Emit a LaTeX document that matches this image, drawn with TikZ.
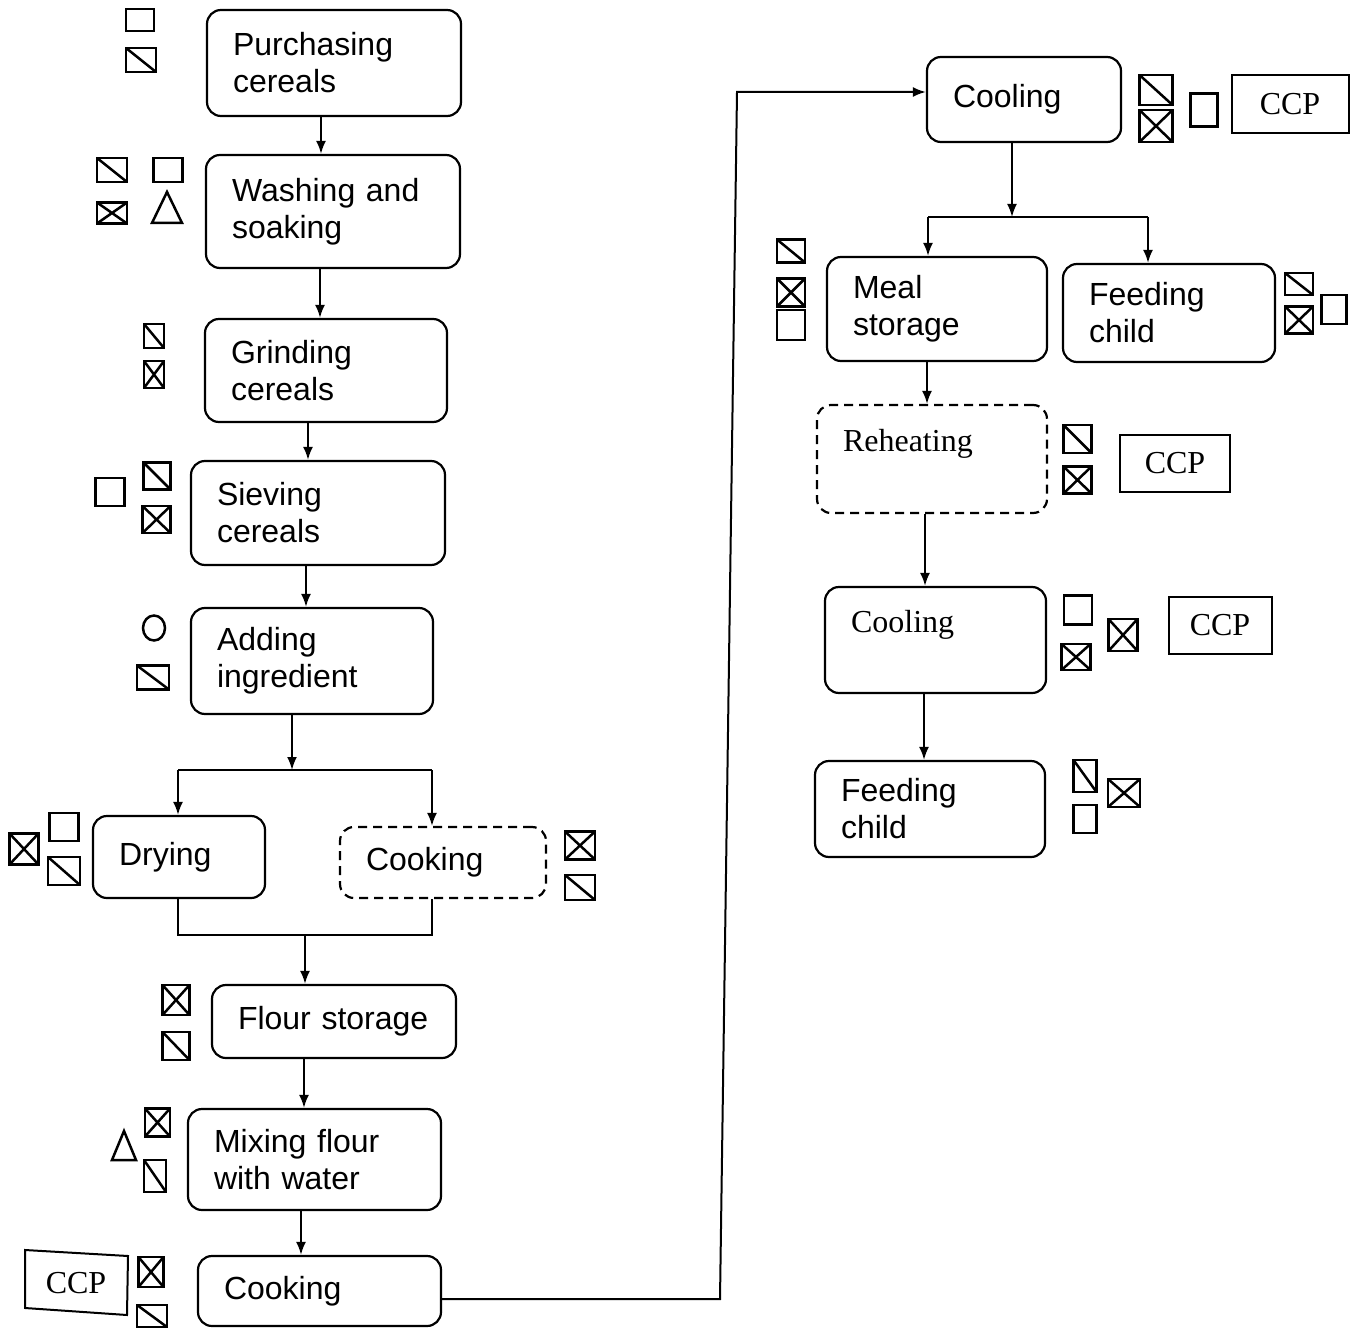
\documentclass[tikz,border=0pt]{standalone}
\usepackage{fontspec}
\setmainfont{Liberation Sans}
\newfontfamily\serifface{Liberation Serif}
\usetikzlibrary{arrows.meta,shapes.geometric}
\begin{document}
\begin{tikzpicture}[x=1pt,y=-1pt,
  box/.style={draw, line width=2.2pt, rounded corners=14pt, align=left, inner xsep=26pt, inner ysep=0pt, font=\fontsize{32}{37}\selectfont},
  dbox/.style={box, dash pattern=on 9pt off 6pt},
  serifbox/.style={font=\serifface\fontsize{32}{37}\selectfont},
  ccp/.style={draw, line width=2pt, inner sep=0pt, font=\serifface\fontsize{32}{37}\selectfont},
  symline/.style={line width=2.5pt},
  symE/.style={draw, symline, inner sep=0pt, rectangle},
  symD/.style={symE, path picture={\draw[symline] (path picture bounding box.north west) -- (path picture bounding box.south east);}},
  symX/.style={symE, path picture={\draw[symline] (path picture bounding box.north west) -- (path picture bounding box.south east) (path picture bounding box.south west) -- (path picture bounding box.north east);}},
  symO/.style={draw, symline, inner sep=0pt, ellipse},
  wh/.style 2 args={minimum width=#1pt, minimum height=#2pt},
  arr/.style={line width=2pt, -{Latex[length=13pt,width=10pt]}},
  ln/.style={line width=2pt},
]
\useasboundingbox (0,0) rectangle (1359,1329);

% ---------- left column boxes ----------
\node[box, text width=202pt, minimum height=106pt] (p1) at (334,63) {Purchasing\\cereals};
\node[box, text width=202pt, minimum height=113pt] (p2) at (333,211.5) {Washing and\\soaking};
\node[box, text width=190pt, minimum height=103pt] (p3) at (326,370.5) {Grinding\\cereals};
\node[box, text width=202pt, minimum height=104pt] (p4) at (318,513) {Sieving\\cereals};
\node[box, text width=190pt, minimum height=106pt] (p5) at (312,661) {Adding\\ingredient};
\node[box, text width=120pt, minimum height=82pt] (p6) at (179,857) {Drying};
\node[dbox, text width=154pt, minimum height=71pt] (p7) at (443,862.5) {Cooking};
\node[box, text width=192pt, minimum height=73pt] (p8) at (334,1021.5) {Flour storage};
\node[box, text width=201pt, minimum height=101pt] (p9) at (314.5,1159.5) {Mixing flour\\with water};
\node[box, text width=191pt, minimum height=70pt] (p10) at (319.5,1291) {Cooking};

% ---------- right column boxes ----------
\node[box, text width=142pt, minimum height=85pt] (q1) at (1024,99.5) {Cooling};
\node[box, text width=168pt, minimum height=104pt] (q2) at (937,309) {Meal\\storage};
\node[box, text width=160pt, minimum height=98pt] (q3) at (1169,313) {Feeding\\child};
\node[dbox, serifbox, text width=178pt, minimum height=108pt] (q4) at (932,459) {Reheating\\\mbox{}};
\node[box, serifbox, text width=169pt, minimum height=106pt] (q5) at (935.5,640) {Cooling\\\mbox{}};
\node[box, text width=178pt, minimum height=96pt] (q6) at (930,809) {Feeding\\child};

% ---------- CCP boxes ----------
\node[ccp, wh={117}{58}] (c1) at (1290,104) {CCP};
\node[ccp, wh={110}{57}] (c2) at (1175,463) {CCP};
\node[ccp, wh={103}{57}] (c3) at (1220,625) {CCP};
\draw[line width=2pt] (25,1250) -- (128,1256) -- (127,1315) -- (25,1308) -- cycle;
\node[inner sep=0pt, font=\serifface\fontsize{32}{37}\selectfont] (c4) at (76,1283) {CCP};

% ---------- symbols ----------
\node[symE, wh={28}{22}] (s1) at (140,20) {};
\node[symD, wh={30}{24}] (s2) at (141,60) {};
\node[symD, wh={30}{24}] (s3) at (112,170) {};
\node[symE, wh={29}{24}] (s4) at (168,170) {};
\node[symX, wh={30}{21}] (s5) at (112,213) {};
\draw[symline] (167,192) -- (182,223) -- (152,223) -- cycle;
\node[symD, wh={20}{24}] (s6) at (154,336) {};
\node[symX, wh={20}{27}] (s7) at (154,374.5) {};
\node[symE, wh={29}{28}] (s8) at (110,492) {};
\node[symD, wh={27}{27}] (s9) at (157,476) {};
\node[symX, wh={28}{27}] (s10) at (156.5,519.5) {};
\node[symO, wh={22}{25}] (s11) at (154,628) {};
\node[symD, wh={32}{24}] (s12) at (153,677.5) {};
\node[symX, wh={29}{31}] (s13) at (24,849) {};
\node[symE, wh={29}{28}] (s14) at (64,827) {};
\node[symD, wh={32}{28}] (s15) at (64,871) {};
\node[symX, wh={30}{28}] (s16) at (580,845.5) {};
\node[symD, wh={30}{25}] (s17) at (580,887.5) {};
\node[symX, wh={27}{30}] (s18) at (176,1000) {};
\node[symD, wh={27}{28}] (s19) at (176,1046) {};
\node[symX, wh={25}{28}] (s20) at (157.5,1122.5) {};
\draw[symline] (124,1131) -- (136,1160) -- (112,1160) -- cycle;
\node[symD, wh={22}{32}] (s21) at (155,1176) {};
\node[symX, wh={25}{30}] (s22) at (151,1272) {};
\node[symD, wh={30}{22}] (s23) at (152,1316) {};
\node[symD, wh={33}{30}] (s24) at (1156,90) {};
\node[symX, wh={33}{32}] (s25) at (1156,126) {};
\node[symE, wh={27}{33}] (s26) at (1204,110) {};
\node[symD, wh={28}{23}] (s27) at (791,251) {};
\node[symX, wh={28}{28}] (s28) at (791,292.5) {};
\node[symE, wh={28}{30}] (s29) at (791,325) {};
\node[symD, wh={28}{22}] (s30) at (1299,284) {};
\node[symX, wh={28}{27}] (s31) at (1299,320) {};
\node[symE, wh={25}{29}] (s32) at (1334,309.5) {};
\node[symD, wh={28}{28}] (s33) at (1077.5,439) {};
\node[symX, wh={28}{27}] (s34) at (1077.5,480) {};
\node[symE, wh={28}{29}] (s35) at (1078,610) {};
\node[symX, wh={29}{26}] (s36) at (1076,657) {};
\node[symX, wh={29}{32}] (s37) at (1123,635) {};
\node[symD, wh={23}{32}] (s38) at (1085,776) {};
\node[symE, wh={23}{28}] (s39) at (1085,819) {};
\node[symX, wh={32}{28}] (s40) at (1124,793) {};

% ---------- connectors ----------
\draw[arr] (p1.south -| 321,0) -- (p2.north -| 321,0);
\draw[arr] (p2.south -| 320,0) -- (p3.north -| 320,0);
\draw[arr] (p3.south -| 308,0) -- (p4.north -| 308,0);
\draw[arr] (p4.south -| 306,0) -- (p5.north -| 306,0);
\coordinate (sa) at (292,770);
\coordinate (sl) at (178,770);
\coordinate (sr) at (432,770);
\draw[arr] (p5.south -| sa) -- (sa);
\draw[ln] (sl) -- (sr);
\draw[arr] (sl) -- (p6.north -| sl);
\draw[arr] (sr) -- (p7.north -| sr);
\coordinate (ml) at (178,935);
\coordinate (mr) at (432,935);
\coordinate (mm) at (305,935);
\draw[ln] (p6.south -| ml) -- (ml) -- (mr) -- (p7.south -| mr);
\draw[arr] (mm) -- (p8.north -| mm);
\draw[arr] (p8.south -| 304,0) -- (p9.north -| 304,0);
\draw[arr] (p9.south -| 301,0) -- (p10.north -| 301,0);
\coordinate (b1) at (720,1299);
\coordinate (b2) at (737,92);
\draw[arr] (p10.east |- b1) -- (b1) -- (b2) -- (q1.west |- b2);
\coordinate (cs) at (1012,217);
\coordinate (cl) at (928,217);
\coordinate (cr) at (1148,217);
\draw[arr] (q1.south -| cs) -- (cs);
\draw[ln] (cl) -- (cr);
\draw[arr] (cl) -- (q2.north -| cl);
\draw[arr] (cr) -- (q3.north -| cr);
\draw[arr] (q2.south -| 927,0) -- (q4.north -| 927,0);
\draw[arr] (q4.south -| 925,0) -- (q5.north -| 925,0);
\draw[arr] (q5.south -| 924,0) -- (q6.north -| 924,0);
\end{tikzpicture}
\end{document}
